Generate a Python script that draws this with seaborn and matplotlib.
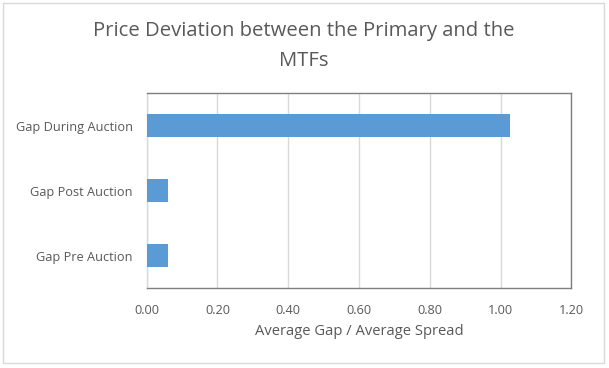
import pandas as pd
import seaborn as sns
import matplotlib.pyplot as plt
from matplotlib.patches import Rectangle

# Chart data
categories = ['Gap During Auction', 'Gap Post Auction', 'Gap Pre Auction']
gap_ratio = [1.026, 0.060, 0.060]
x_ticks = [0.0, 0.2, 0.4, 0.6, 0.8, 1.0, 1.2]

df = pd.DataFrame({'category': categories, 'value': gap_ratio})

sns.set_theme(style='white')
plt.rcParams['font.family'] = ['Open Sans', 'DejaVu Sans']

text_col = '#595959'
grid_col = '#D9D9D9'
edge_col = '#7F7F7F'

fig = plt.figure(figsize=(6.09, 3.68), dpi=100)
ax = fig.add_axes([146.7 / 609, 1 - 288.3 / 368, (571.3 - 146.7) / 609, (288.3 - 93.3) / 368])

sns.barplot(data=df, x='value', y='category', orient='h', color='#5B9BD5',
            width=0.35, saturation=1, linewidth=0, ax=ax, zorder=3)

ax.set_xlim(0, 1.2)
ax.set_xticks(x_ticks)
ax.set_xticklabels([f'{t:.2f}' for t in x_ticks])
ax.set_ylim(2.5, -0.5)
ax.set_ylabel('')
ax.set_xlabel('Average Gap / Average Spread', fontsize=10.6, color=text_col, labelpad=5)
ax.xaxis.grid(True, color=grid_col, linewidth=1, zorder=0)
ax.tick_params(axis='both', length=0, labelsize=9.2, colors=text_col)
ax.tick_params(axis='x', pad=11)
ax.tick_params(axis='y', pad=10)

for side in ['top', 'right', 'bottom']:
    ax.spines[side].set_color(edge_col)
    ax.spines[side].set_linewidth(1)
ax.spines['left'].set_color(grid_col)
ax.spines['left'].set_linewidth(1)

fig.text(0.498, 1 - 31 / 368, 'Price Deviation between the Primary and the',
         ha='center', va='center', fontsize=14.6, color=text_col)
fig.text(0.498, 1 - 61 / 368, 'MTFs', ha='center', va='center', fontsize=14.6, color=text_col)

fig.patches.append(Rectangle((3 / 609, 1 - 363 / 368), 601 / 609, 360 / 368,
                             transform=fig.transFigure, fill=False,
                             edgecolor=grid_col, linewidth=1))

fig.savefig('out.png', dpi=100)
